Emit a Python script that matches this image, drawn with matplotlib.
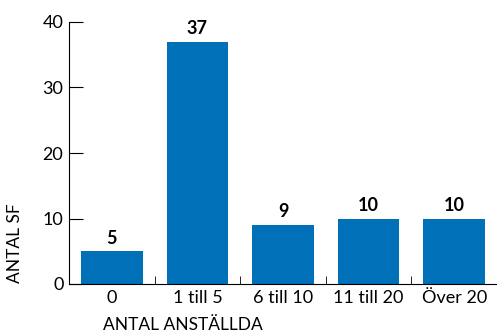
import matplotlib.pyplot as plt
import numpy as np

plt.rcParams['font.family'] = ['Lato', 'DejaVu Sans']

kategorier = ['0', '1 till 5', '6 till 10', '11 till 20', 'Över 20']
antal = [5, 37, 9, 10, 10]

fig = plt.figure(figsize=(4.97, 3.33), dpi=100)
ax = fig.add_axes([69/497, 49/333, 428/497, 262/333])

x = np.arange(len(kategorier))
ax.bar(x, antal, width=0.72, color='#0070B8')
for xi, v in zip(x, antal):
    ax.text(xi, v + 0.7, str(v), ha='center', va='bottom', fontsize=13, fontweight='bold')

ax.set_xlim(-0.5, 4.5)
ax.set_ylim(0, 40)
ax.set_yticks([0, 10, 20, 30, 40])
ax.set_xticks(x)
ax.set_xticklabels(kategorier)
ax.set_xticks(x[:-1] + 0.5, minor=True)
ax.tick_params(axis='x', which='major', length=0, labelsize=13, pad=4)
ax.tick_params(axis='x', which='minor', direction='in', length=6)
ax.tick_params(axis='y', direction='in', length=10, labelsize=13, pad=4)

for s in ['top', 'right']:
    ax.spines[s].set_visible(False)

ax.set_xlabel('ANTAL ANSTÄLLDA', fontsize=12.5)
ax.xaxis.set_label_coords(0.266, -0.125)
ax.set_ylabel('ANTAL SF', fontsize=12.5)
ax.yaxis.set_label_coords(-0.107, 0.156)

fig.savefig('out.png', dpi=100)
